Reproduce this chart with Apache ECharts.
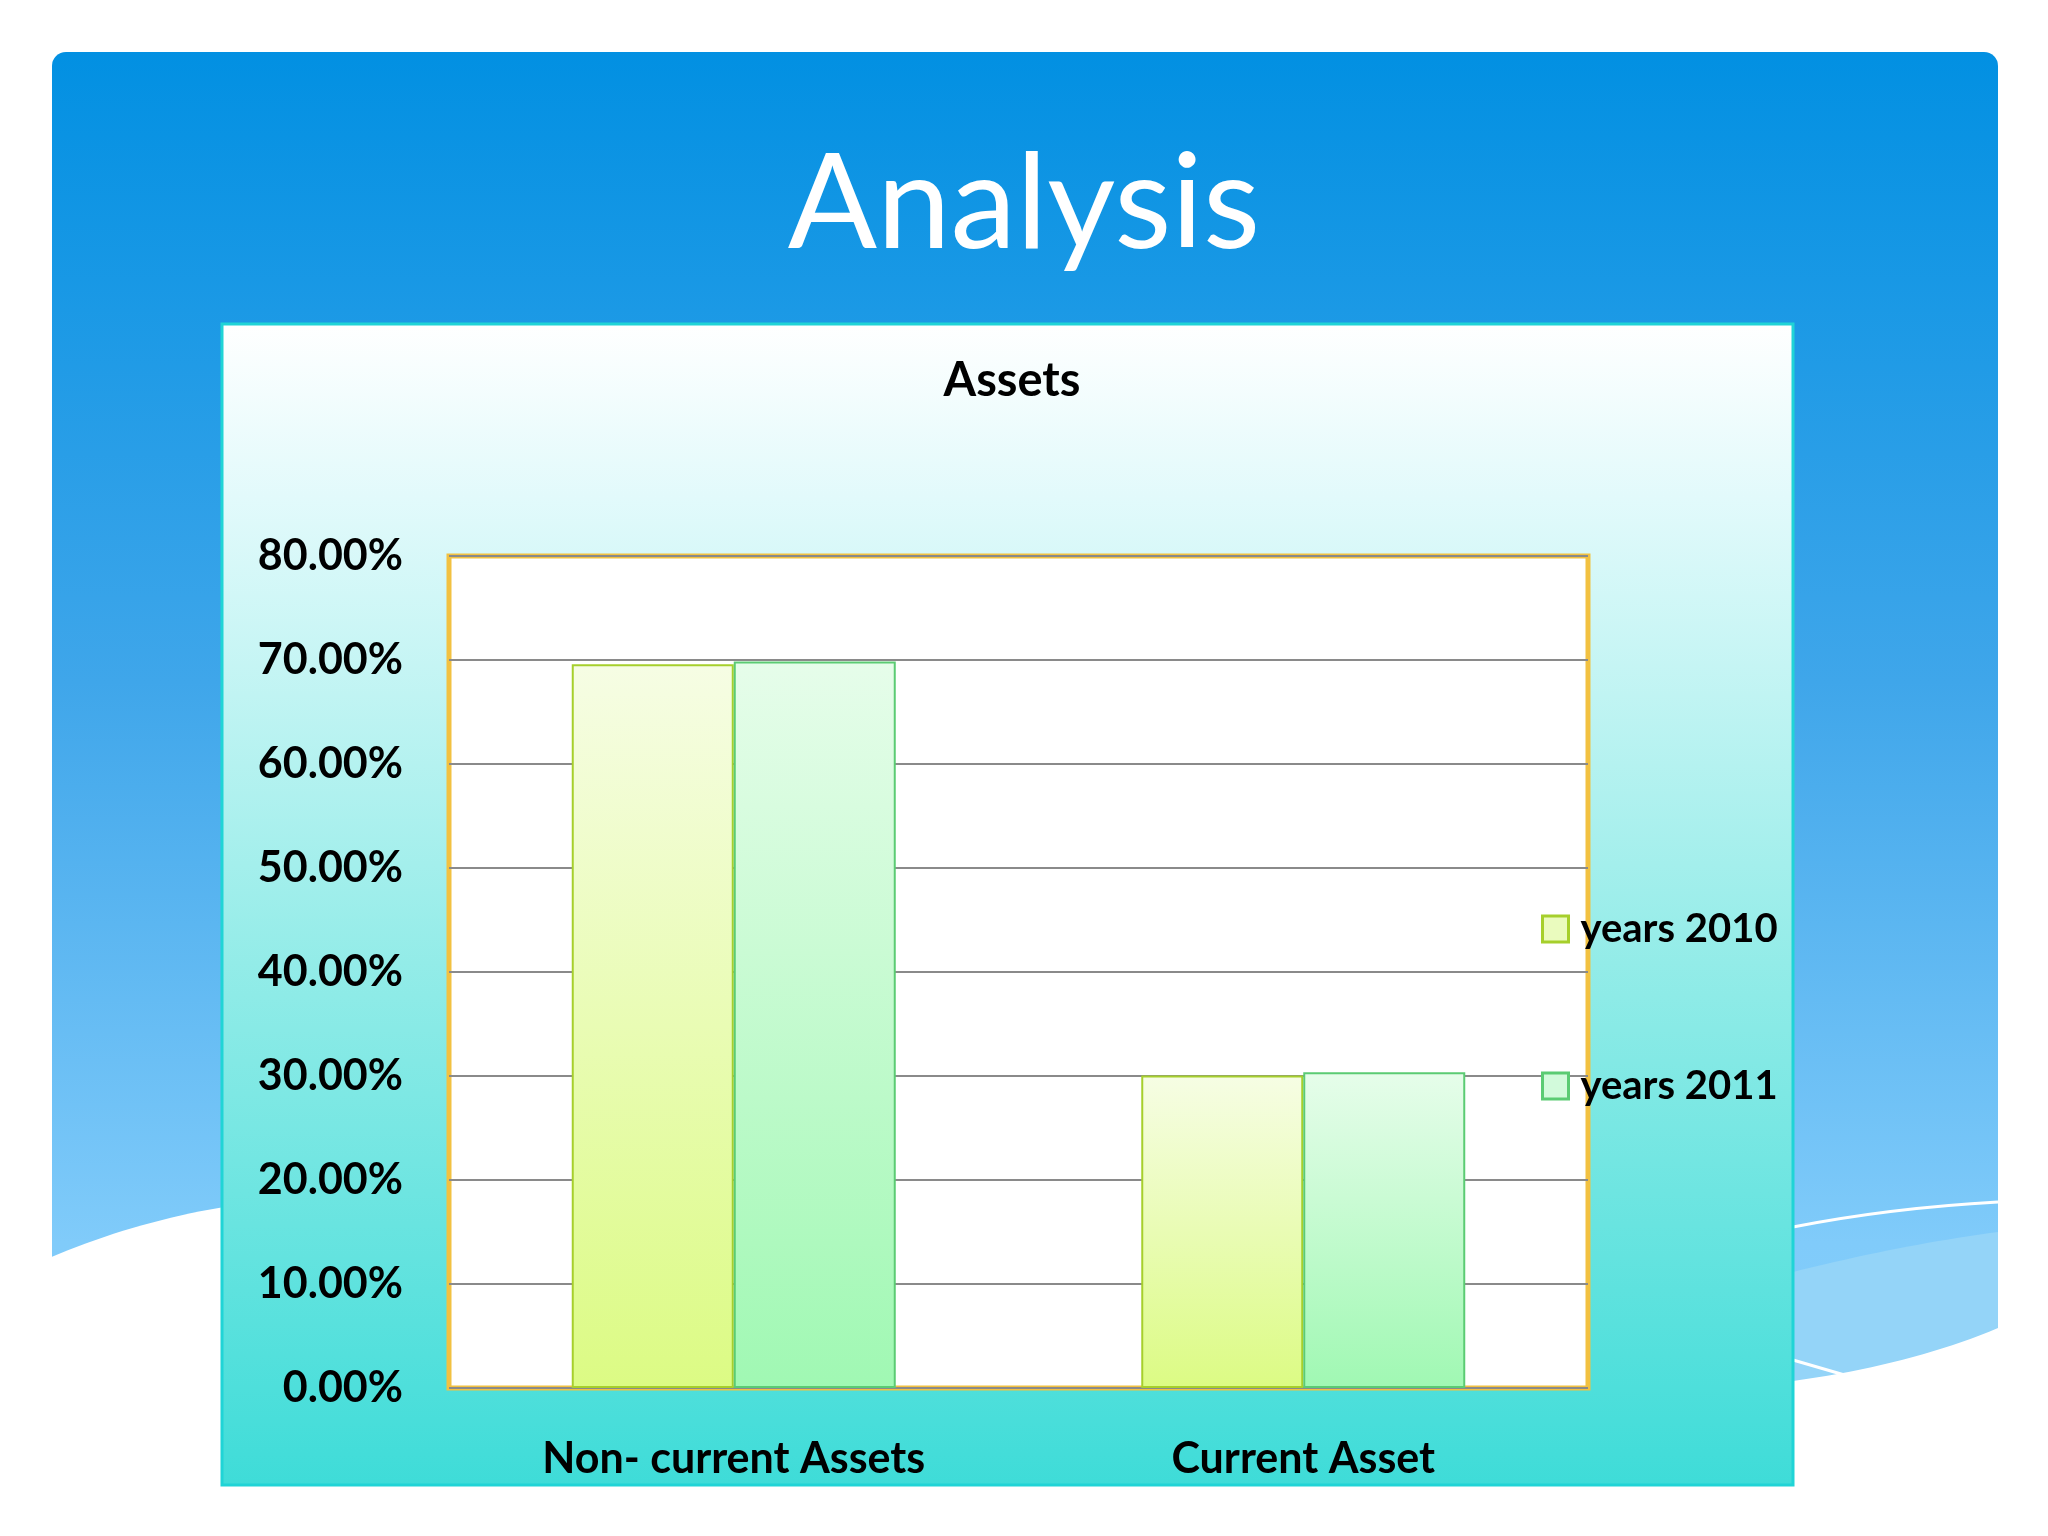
<!DOCTYPE html>
<html>
<head>
<meta charset="utf-8">
<script src="https://cdn.jsdelivr.net/npm/echarts@6/dist/echarts.min.js"></script>
<style>html,body{margin:0;padding:0;background:#fff;}#c{width:2048px;height:1536px;}</style>
</head>
<body>
<div id="c"></div>
<script>
const categories = ['Non- current Assets', 'Current Asset'];
const years2010 = [69.6, 30.05];
const years2011 = [69.85, 30.35];
const seriesNames = ['years 2010', 'years 2011'];
const yTicks = [0, 10, 20, 30, 40, 50, 60, 70, 80];

const FONT = 'Lato';
const chart = echarts.init(document.getElementById('c'));
const grad = (a, b) => new echarts.graphic.LinearGradient(0, 0, 0, 1, [{offset: 0, color: a}, {offset: 1, color: b}]);
// decorative curve helper (quadratic bezier sampled into points)
function qcurve(p0, c, p1, n) {
  const pts = [];
  for (let i = 0; i <= n; i++) {
    const t = i / n, u = 1 - t;
    pts.push([u * u * p0[0] + 2 * u * t * c[0] + t * t * p1[0], u * u * p0[1] + 2 * u * t * c[1] + t * t * p1[1]]);
  }
  return pts;
}
const bandPts = qcurve([1793, 1272], [1900, 1245], [1998, 1232], 20).concat([[1998, 1340], [1793, 1395]]);
const whiteRight = qcurve([1793, 1381], [1910, 1365], [1998, 1328], 20).concat([[1998, 1536], [1793, 1536]]);
const whiteLeft = qcurve([40, 1262], [130, 1222], [230, 1206], 20).concat([[230, 1536], [40, 1536]]);

chart.setOption({
  backgroundColor: '#ffffff',
  animation: false,
  title: [
    {text: 'Analysis', left: 'center', top: 134,
     textStyle: {fontFamily: FONT, fontSize: 132, fontWeight: 'normal', color: '#ffffff'}},
    {text: 'Assets', left: 1007, textAlign: 'center', top: 352,
     textStyle: {fontFamily: FONT, fontSize: 47, fontWeight: 'bold', color: '#000000'}}
  ],
  graphic: [
    {type: 'rect', z: -100, shape: {x: 52, y: 52, width: 1946, height: 1400, r: [14, 14, 0, 0]},
     style: {fill: new echarts.graphic.LinearGradient(0, 0, 0, 1, [
       {offset: 0, color: '#0290E2'}, {offset: 0.45, color: '#3FA6EA'}, {offset: 0.85, color: '#80CBFA'}, {offset: 1, color: '#86CEFA'}])}},
    {type: 'polygon', z: -99, shape: {points: bandPts}, style: {fill: '#94D4F8'}},
    {type: 'bezierCurve', z: -98, shape: {x1: 1793, y1: 1227, cpx1: 1890, cpy1: 1208, x2: 1998, y2: 1202}, style: {fill: null, stroke: '#ffffff', lineWidth: 3}},
    {type: 'line', z: -98, shape: {x1: 1793, y1: 1360, x2: 1848, y2: 1376}, style: {stroke: '#ffffff', lineWidth: 3}},
    {type: 'polygon', z: -97, shape: {points: whiteRight}, style: {fill: '#ffffff'}},
    {type: 'polygon', z: -97, shape: {points: whiteLeft}, style: {fill: '#ffffff'}},
    {type: 'rect', z: -96, shape: {x: 222, y: 324, width: 1571, height: 1161},
     style: {fill: new echarts.graphic.LinearGradient(0, 0, 0, 1, [
       {offset: 0, color: '#FFFFFF'}, {offset: 0.15, color: '#E2FAFB'}, {offset: 0.55, color: '#93ECE8'}, {offset: 1, color: '#3EDCD8'}]),
       stroke: '#20D4D6', lineWidth: 3}}
  ],
  legend: {
    orient: 'vertical', left: 1541, top: 909, padding: 0, itemWidth: 26, itemHeight: 26, itemGap: 117,
    icon: 'rect',
    textStyle: {fontFamily: FONT, fontSize: 40, fontWeight: 'bold', color: '#000', padding: [0, 0, 0, 7]},
    data: [
      {name: seriesNames[0], itemStyle: {color: '#EAFBBE', borderColor: '#A6CF2C', borderWidth: 3}},
      {name: seriesNames[1], itemStyle: {color: '#D2FADB', borderColor: '#5BCB73', borderWidth: 3}}
    ]
  },
  grid: {left: 449, right: 460, top: 556, bottom: 148, show: true, backgroundColor: '#FFFFFF', borderColor: '#F2C141', borderWidth: 5, containLabel: false},
  xAxis: {
    type: 'category', data: categories,
    axisLine: {show: false}, axisTick: {show: false},
    axisLabel: {margin: 50, fontFamily: FONT, fontSize: 43, fontWeight: 'bold', color: '#000'}
  },
  yAxis: {
    type: 'value', min: yTicks[0], max: yTicks[yTicks.length - 1], interval: 10,
    axisLine: {show: false}, axisTick: {show: false},
    splitLine: {lineStyle: {color: '#8A8A8A', width: 2}},
    axisLabel: {margin: 46, fontFamily: FONT, fontSize: 43, fontWeight: 'bold', color: '#000',
      formatter: v => v.toFixed(2) + '%'}
  },
  series: [
    {name: seriesNames[0], type: 'bar', data: years2010, barWidth: 162, barGap: '0%',
     itemStyle: {color: grad('#F6FDE4', '#DCFB84'), borderColor: '#A6CF2C', borderWidth: 2}},
    {name: seriesNames[1], type: 'bar', data: years2011, barWidth: 162,
     itemStyle: {color: grad('#E6FDEA', '#A0F8B3'), borderColor: '#5BCB73', borderWidth: 2}}
  ]
});
</script>
</body>
</html>
